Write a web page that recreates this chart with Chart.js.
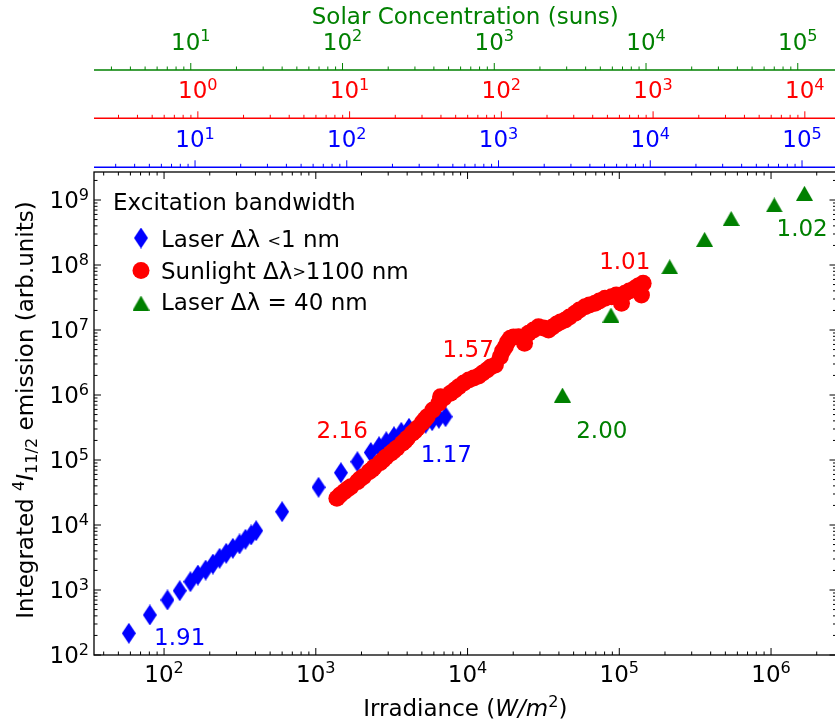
<!DOCTYPE html>
<html>
<head>
<meta charset="utf-8">
<script src="https://cdn.jsdelivr.net/npm/chart.js@4.4.1/dist/chart.umd.min.js"></script>
<style>
  html, body { margin: 0; padding: 0; background: #fff; overflow: hidden; }
  #wrap { width: 835px; height: 721px; overflow: hidden; }
  canvas { display: block; }
</style>
</head>
<body>
<div id="wrap"><canvas id="plot" width="845" height="721"></canvas></div>
<script>
// laser excitation, narrow line (< 1 nm)
const laserNarrowX = [58.6, 80.6, 105.3, 126.8, 149.1, 167.2, 187.9, 209.8, 232.2, 256.9, 283.9, 314.2, 344.0, 375.0, 404.5,
    599.4, 1042, 1463, 1880, 2302, 2611, 2915, 3275, 3658, 4110, 4779, 5289, 5846, 6469, 7159];
const laserNarrowY = [215.7, 412.6, 702, 975.6, 1342, 1701, 2031, 2512, 3073, 3670, 4381, 5102, 6026, 7020, 8173,
    16020, 38040, 63770, 94190, 130500, 160200, 191200, 228300, 266900, 307400, 345500, 366900, 402300, 438200, 463700];

// concentrated sunlight, broadband (> 1100 nm)
const sunlightX = [1377, 1447, 1538, 1621, 1701, 1880, 1958, 2058, 2244, 2348, 2420, 2650, 2773, 2888, 3116, 3251, 3412,
    3714, 3868, 4005, 4319, 4500, 4659, 5024, 5233, 5420,
    5908, 6469, 6637, 6977, 7719, 8240, 8752, 9441, 10180, 10980, 11840, 12580, 13430, 14200, 15250, 16440, 17030,
    17740, 18370, 19120, 20110, 21690, 23750, 25230, 27210, 29350, 31650, 34150, 36270, 38700, 40940, 43950, 46920,
    51130, 54570, 59480, 63480, 69180, 73840, 80520, 88950, 95480, 103400, 108900, 116200, 126700, 133200, 143600, 140000];
const sunlightY = [25750, 28940, 32540, 35800, 38850, 46370, 51030, 55360, 66090, 71430, 77220, 90880, 100000, 110000,
    126800, 137500, 151400, 180700, 196100, 215800, 257500, 279400, 307400, 374800, 420100, 463700,
    587900, 745400, 941700, 899000, 1.062e6, 1.194e6, 1.342e6, 1.530e6, 1.701e6, 1.827e6, 1.961e6, 2.180e6, 2.424e6,
    2.697e6, 2.894e6, 3.885e6, 4.754e6, 5.537e6, 6.540e6, 7.455e6, 7.806e6, 7.889e6, 6.246e6, 8.898e6, 1.0e7,
    1.124e7, 1.073e7, 1.0e7, 1.112e7, 1.237e7, 1.328e7, 1.425e7, 1.585e7, 1.807e7, 2.032e7, 2.284e7, 2.425e7,
    2.576e7, 2.794e7, 3.075e7, 3.254e7, 3.457e7, 2.576e7, 3.670e7, 3.983e7, 4.381e7, 4.754e7, 5.231e7, 3.457e7];

// laser excitation, 40 nm bandwidth
const laserWideX = [42200, 88100, 215000, 365000, 546000, 1.05e6, 1.66e6];
const laserWideY = [1.0e6, 1.70e7, 9.4e7, 2.48e8, 5.2e8, 8.4e8, 1.27e9];

// fitted slopes written next to each branch (series index picks the colour)
const slopeText = ['1.91', '2.16', '1.17', '1.57', '1.01', '2.00', '1.02'];
const slopeX = [126.8, 1492, 7247, 10100, 108600, 76680, 1.602e6];
const slopeY = [189.2, 289400, 125900, 5.195e6, 1.173e8, 289400, 3.75e8];
const slopeSeries = [0, 1, 0, 1, 1, 2, 2];

const legendTitle = 'Excitation bandwidth';

// irradiance range shown, and the three secondary scales (irradiance / factor)
const xRange = [34.54, 2.70e6];
const yRange = [1e2, 2.697e9];
const topFactors = [16, 167, 15];

const BLUE = '#0000ff', RED = '#ff0000', GREEN = '#008000';
const seriesColors = [BLUE, RED, GREEN];
const F = 23;

function makeMarker(w, h, color, pts) {
    const c = document.createElement('canvas');
    c.width = w; c.height = h;
    const g = c.getContext('2d');
    g.fillStyle = color;
    g.beginPath();
    pts.forEach(([x, y], i) => i ? g.lineTo(x, y) : g.moveTo(x, y));
    g.closePath();
    g.fill();
    return c;
}
const diamond = makeMarker(14, 21, BLUE, [[7, 0], [14, 10.5], [7, 21], [0, 10.5]]);
const triangle = makeMarker(17, 15, GREEN, [[8.5, 0], [17, 15], [0, 15]]);

const fontStr = (size, italic) => (italic ? 'italic ' : '') + size + 'px "DejaVu Sans"';
const txt = (text, size = F, dy = 0, italic = false) => ({ text, size, dy, italic });
const sup = s => txt(s, F * 0.7, -F * 0.37);
const sub = s => txt(s, F * 0.7, F * 0.17);
const pow10 = n => [txt('10'), sup(String(n))];

// draws a run of text pieces with their own size / offset / slant
function drawParts(ctx, parts, x, y, align) {
    let total = 0;
    const widths = parts.map(p => {
        ctx.font = fontStr(p.size, p.italic);
        const w = ctx.measureText(p.text).width;
        total += w;
        return w;
    });
    let cx = align === 'center' ? x - total / 2 : (align === 'right' ? x - total : x);
    ctx.textAlign = 'left';
    ctx.textBaseline = 'alphabetic';
    parts.forEach((p, i) => {
        ctx.font = fontStr(p.size, p.italic);
        ctx.fillText(p.text, cx, y + p.dy);
        cx += widths[i];
    });
}

function logTicks(scale) {
    const out = [];
    const e0 = Math.floor(Math.log10(scale.min)), e1 = Math.ceil(Math.log10(scale.max));
    for (let e = e0; e <= e1; e++) {
        for (let m = 1; m <= 9; m++) {
            const v = m * Math.pow(10, e);
            if (v >= scale.min * 0.9999 && v <= scale.max * 1.0001) out.push({ v, major: m === 1 });
        }
    }
    return out;
}

function decades(scale) {
    const out = [];
    for (let e = Math.ceil(Math.log10(scale.min) - 1e-6); e <= Math.floor(Math.log10(scale.max) + 1e-6); e++) out.push(e);
    return out;
}

function seg(ctx, x1, y1, x2, y2) {
    ctx.beginPath(); ctx.moveTo(x1, y1); ctx.lineTo(x2, y2); ctx.stroke();
}

const axesPlugin = {
    id: 'axesPlugin',
    afterDraw(chart) {
        const { ctx, chartArea: a, scales: s } = chart;
        ctx.save();

        // main frame, ticks pointing inward
        ctx.strokeStyle = '#000';
        ctx.lineWidth = 1.3;
        ctx.strokeRect(a.left, a.top, a.right - a.left, a.bottom - a.top);
        ctx.lineWidth = 1;
        logTicks(s.x).forEach(t => {
            const px = s.x.getPixelForValue(t.v), len = t.major ? 7 : 3.5;
            seg(ctx, px, a.bottom, px, a.bottom - len);
            seg(ctx, px, a.top, px, a.top + len);
        });
        logTicks(s.y).forEach(t => {
            const py = s.y.getPixelForValue(t.v), len = t.major ? 7 : 3.5;
            seg(ctx, a.left, py, a.left + len, py);
            seg(ctx, a.right, py, a.right - len, py);
        });

        ctx.fillStyle = '#000';
        decades(s.x).forEach(e => drawParts(ctx, pow10(e), s.x.getPixelForValue(Math.pow(10, e)), a.bottom + 27, 'center'));
        decades(s.y).forEach(e => drawParts(ctx, pow10(e), a.left - 5, s.y.getPixelForValue(Math.pow(10, e)) + 8.4, 'right'));

        drawParts(ctx, [txt('Irradiance ('), txt('W/m', F, 0, true), sup('2'), txt(')')], (a.left + a.right) / 2, 716, 'center');

        ctx.save();
        ctx.translate(33, 410);
        ctx.rotate(-Math.PI / 2);
        drawParts(ctx, [txt('Integrated '), sup('4'), txt('I', F, 0, true), sub('11/2'), txt(' emission (arb.units)')], 0, 0, 'center');
        ctx.restore();

        // stacked secondary axes above the frame
        const tops = [[s.xBlue, 167.3, BLUE], [s.xRed, 118.3, RED], [s.xGreen, 70, GREEN]];
        tops.forEach(([sc, y, color]) => {
            ctx.strokeStyle = color;
            ctx.fillStyle = color;
            ctx.lineWidth = 1.6;
            seg(ctx, a.left, y, chart.width, y);
            ctx.lineWidth = 1;
            logTicks(sc).forEach(t => {
                const px = sc.getPixelForValue(t.v);
                seg(ctx, px, y, px, y - (t.major ? 7 : 3.5));
            });
            decades(sc).forEach(e => drawParts(ctx, pow10(e), sc.getPixelForValue(Math.pow(10, e)), y - 20, 'center'));
        });
        ctx.fillStyle = GREEN;
        drawParts(ctx, [txt('Solar Concentration (suns)')], (a.left + a.right) / 2, 24, 'center');

        // legend
        ctx.fillStyle = '#000';
        drawParts(ctx, [txt(legendTitle)], 113, 210, 'left');
        ctx.drawImage(diamond, 141 - diamond.width / 2, 238 - diamond.height / 2);
        ctx.fillStyle = RED;
        ctx.beginPath(); ctx.arc(141, 270.5, 8.5, 0, Math.PI * 2); ctx.fill();
        ctx.drawImage(triangle, 141 - triangle.width / 2, 303 - triangle.height / 2);
        ctx.fillStyle = '#000';
        drawParts(ctx, [txt('Laser Δλ '), txt('<', F * 0.7, -F * 0.05), txt('1 nm')], 161, 247.3, 'left');
        drawParts(ctx, [txt('Sunlight Δλ'), txt('>', F * 0.7, -F * 0.05), txt('1100 nm')], 161, 278.5, 'left');
        drawParts(ctx, [txt('Laser Δλ = 40 nm')], 161, 310, 'left');

        // slope labels
        slopeText.forEach((t, i) => {
            ctx.fillStyle = seriesColors[slopeSeries[i]];
            drawParts(ctx, [txt(t)], s.x.getPixelForValue(slopeX[i]), s.y.getPixelForValue(slopeY[i]) + 8.4, 'center');
        });

        ctx.restore();
    }
};

const pts = (xs, ys) => xs.map((x, i) => ({ x, y: ys[i] }));
const topScale = f => ({ type: 'logarithmic', position: 'top', display: false, min: xRange[0] / f, max: xRange[1] / f });

new Chart(document.getElementById('plot'), {
    type: 'scatter',
    data: {
        datasets: [
            { label: 'Laser Δλ <1 nm', data: pts(laserNarrowX, laserNarrowY), pointStyle: diamond, order: 3 },
            { label: 'Sunlight Δλ>1100 nm', data: pts(sunlightX, sunlightY), pointStyle: 'circle', pointRadius: 8.5,
              backgroundColor: RED, borderColor: RED, pointBorderWidth: 0, order: 2 },
            { label: 'Laser Δλ = 40 nm', data: pts(laserWideX, laserWideY), pointStyle: triangle, order: 1 }
        ]
    },
    options: {
        responsive: false,
        animation: false,
        events: [],
        layout: { padding: { left: 94, top: 172, right: 6, bottom: 66 } },
        plugins: { legend: { display: false }, tooltip: { enabled: false } },
        scales: {
            x: { type: 'logarithmic', position: 'bottom', display: false, min: xRange[0], max: xRange[1] },
            y: { type: 'logarithmic', position: 'left', display: false, min: yRange[0], max: yRange[1] },
            xBlue: topScale(topFactors[0]),
            xRed: topScale(topFactors[1]),
            xGreen: topScale(topFactors[2])
        }
    },
    plugins: [axesPlugin]
});
</script>
</body>
</html>
